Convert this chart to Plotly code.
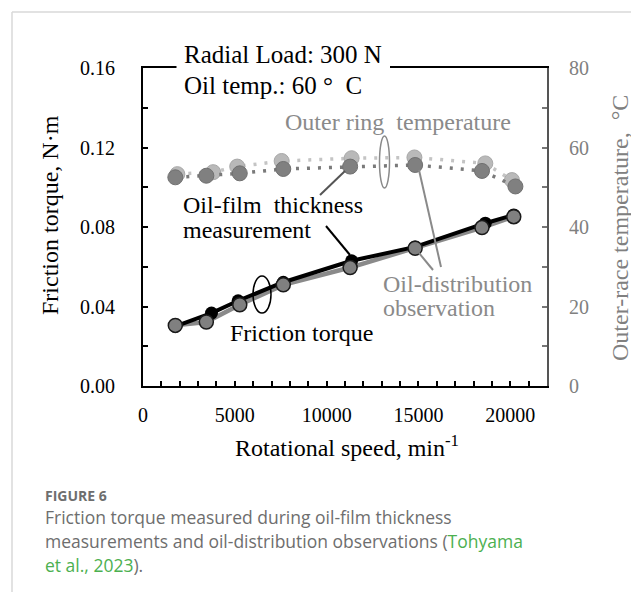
import plotly.graph_objects as go

# ---------------- data ----------------
speed_film = [1760, 3730, 5180, 7640, 11360, 14820, 18640, 20190]
torque_film = [0.0300, 0.0367, 0.0429, 0.0522, 0.0630, 0.0700, 0.0819, 0.0861]

speed_dist = [1760, 3450, 5270, 7640, 11280, 14820, 18460, 20190]
torque_dist = [0.0305, 0.0322, 0.0409, 0.0509, 0.0596, 0.0693, 0.0797, 0.0852]

speed_temp_dark = [1760, 3450, 5270, 7640, 11280, 14820, 18460, 20280]
temp_dark = [52.5, 52.9, 53.5, 54.6, 55.2, 55.6, 54.1, 50.2]

speed_temp_light = [1870, 3820, 5130, 7550, 11360, 14780, 18640, 20090]
temp_light = [53.3, 53.8, 55.2, 56.6, 57.3, 57.5, 56.0, 51.8]

x_ticks = [0, 5000, 10000, 15000, 20000]
y_ticks = [0.00, 0.04, 0.08, 0.12, 0.16]
y_tick_labels = ["0.00", "0.04", "0.08", "0.12", "0.16"]
y2_ticks = [0, 20, 40, 60, 80]

# ---------------- layout constants ----------------
W, H = 639, 592
L, R, T, B = 135, 539, 60, 378
SERIF = "Liberation Serif, Times New Roman, serif"
SANS = "Open Sans, Noto Sans, sans-serif"
GRAY_TXT = "#8a8a8a"
CAP_GRAY = "#6e6e6e"
GREEN = "#4cb050"


def px(X):
    return (X - L) / (R - L)


def py(Y):
    return (B - Y) / (B - T)


fig = go.Figure()

# temperature (right axis)
fig.add_trace(go.Scatter(
    x=speed_temp_light, y=temp_light, yaxis="y2", mode="lines+markers",
    line=dict(color="#c4c4c4", width=3.5, dash="3px,8px"),
    marker=dict(size=15, color="#b9b9b9", line=dict(color="#a8a8a8", width=1)),
    showlegend=False, hoverinfo="skip"))
fig.add_trace(go.Scatter(
    x=speed_temp_dark, y=temp_dark, yaxis="y2", mode="lines+markers",
    line=dict(color="#7a7a7a", width=3.5, dash="3px,8px"),
    marker=dict(size=15, color="#808080", line=dict(color="#707070", width=1)),
    showlegend=False, hoverinfo="skip"))

# torque (left axis)
fig.add_trace(go.Scatter(
    x=speed_dist, y=torque_dist, mode="lines",
    line=dict(color="#8a8a8a", width=4.5),
    showlegend=False, hoverinfo="skip"))
fig.add_trace(go.Scatter(
    x=speed_film, y=torque_film, mode="lines+markers",
    line=dict(color="#000000", width=4),
    marker=dict(size=13, color="#000000"),
    showlegend=False, hoverinfo="skip"))
fig.add_trace(go.Scatter(
    x=speed_dist, y=torque_dist, mode="markers",
    marker=dict(size=14, color="#808080", line=dict(color="#1a1a1a", width=1.5)),
    showlegend=False, hoverinfo="skip"))

axis_font = dict(family=SERIF, size=20, color="#000000")

fig.update_layout(
    width=W, height=H,
    margin=dict(l=L, r=W - R, t=T, b=H - B, pad=0),
    paper_bgcolor="white", plot_bgcolor="white",
    xaxis=dict(range=[0, 22000], tickvals=x_ticks, ticktext=[str(v) for v in x_ticks],
               ticks="inside", ticklen=5, tickwidth=1.5, tickcolor="#000",
               minor=dict(dtick=1000, tick0=0, ticks="inside", ticklen=5, tickwidth=1.5, tickcolor="#000"),
               showline=True, linecolor="#000", linewidth=2, mirror=True,
               showgrid=False, zeroline=False, tickfont=axis_font,
               ticklabelstandoff=10),
    yaxis=dict(range=[0, 0.16], tickvals=y_ticks, ticktext=y_tick_labels,
               ticks="inside", ticklen=5, tickwidth=1.5, tickcolor="#000",
               minor=dict(dtick=0.02, tick0=0, ticks="inside", ticklen=5, tickwidth=1.5, tickcolor="#000"),
               showline=True, linecolor="#000", linewidth=2,
               showgrid=False, zeroline=False, tickfont=axis_font,
               ticklabelstandoff=22),
    yaxis2=dict(range=[0, 80], tickvals=y2_ticks, overlaying="y", side="right",
                ticks="inside", ticklen=5, tickwidth=1.5, tickcolor="#777",
                minor=dict(dtick=10, tick0=0, ticks="inside", ticklen=5, tickwidth=1.5, tickcolor="#777"),
                showline=True, linecolor="#555", linewidth=2,
                showgrid=False, zeroline=False,
                tickfont=dict(family=SERIF, size=20, color="#808080"),
                ticklabelstandoff=16),
)

shapes = []
# gap in top frame for the condition label
shapes.append(dict(type="rect", xref="paper", yref="paper", layer="above",
                   x0=px(168.5), x1=px(382), y0=py(64), y1=py(54),
                   fillcolor="white", line=dict(width=0)))
# ellipses
shapes.append(dict(type="circle", xref="paper", yref="paper", layer="above",
                   x0=px(371.5), x1=px(381.5), y0=py(180), y1=py(128),
                   line=dict(color="#8a8a8a", width=1.5)))
shapes.append(dict(type="circle", xref="paper", yref="paper", layer="above",
                   x0=px(245), x1=px(263), y0=py(305), y1=py(268),
                   line=dict(color="#000", width=1.5)))
# leader lines
shapes.append(dict(type="line", xref="paper", yref="paper", layer="above",
                   x0=px(318), y0=py(218), x1=px(342), y1=py(247),
                   line=dict(color="#000", width=2)))
shapes.append(dict(type="line", xref="paper", yref="paper", layer="above",
                   x0=px(312), y0=py(187), x1=px(337), y1=py(163),
                   line=dict(color="#555", width=2)))
shapes.append(dict(type="line", xref="paper", yref="paper", layer="above",
                   x0=px(411), y0=py(162), x1=px(433), y1=py(259),
                   line=dict(color="#8a8a8a", width=2)))
shapes.append(dict(type="line", xref="paper", yref="paper", layer="above",
                   x0=px(411), y0=py(245), x1=px(425), y1=py(262),
                   line=dict(color="#8a8a8a", width=2)))
# page border
shapes.append(dict(type="line", xref="paper", yref="paper", layer="above",
                   x0=px(4), y0=py(4), x1=px(700), y1=py(4),
                   line=dict(color="#d8d8d8", width=1.5)))
shapes.append(dict(type="line", xref="paper", yref="paper", layer="above",
                   x0=px(4), y0=py(4), x1=px(4), y1=py(700),
                   line=dict(color="#d8d8d8", width=1.5)))
fig.update_layout(shapes=shapes)


def ann(text, X, Y, size=24, color="#000", xanchor="left", family=SERIF, angle=0):
    return dict(text=text, xref="paper", yref="paper", x=px(X), y=py(Y),
                xanchor=xanchor, yanchor="middle", showarrow=False, textangle=angle,
                font=dict(family=family, size=size, color=color), align="left")


anns = [
    ann("Radial Load: 300 N", 174, 47, size=25),
    ann("Oil temp.: 60 °  C", 174, 77, size=25),
    ann("Outer ring  temperature", 390, 114, color=GRAY_TXT, xanchor="center"),
    ann("Oil-film  thickness", 173, 197),
    ann("measurement", 173, 222),
    ann("Friction torque", 293, 325, xanchor="center"),
    ann("Oil-distribution", 373, 276, color=GRAY_TXT),
    ann("observation", 373, 300, color=GRAY_TXT),
    # axis titles
    ann("Friction torque, N·m", 42, 207, xanchor="center", angle=-90),
    ann("Outer-race temperature,  °C", 612, 220, color="#808080", xanchor="center", angle=-90),
    ann("Rotational speed, min<sup>-1</sup>", 339, 438, xanchor="center"),
    # caption
    ann("<b>FIGURE 6</b>", 35, 487, size=14, color=CAP_GRAY, family=SANS),
    ann("Friction torque measured during oil-film thickness", 35, 509, size=17.5, color=CAP_GRAY, family=SANS),
    ann("measurements and oil-distribution observations (<span style='color:" + GREEN + "'>Tohyama</span>",
        35, 533, size=17.5, color=CAP_GRAY, family=SANS),
    ann("<span style='color:" + GREEN + "'>et al., 2023</span>).", 35, 557, size=17.5, color=CAP_GRAY, family=SANS),
]
fig.update_layout(annotations=anns)

fig.write_html("out.html")
